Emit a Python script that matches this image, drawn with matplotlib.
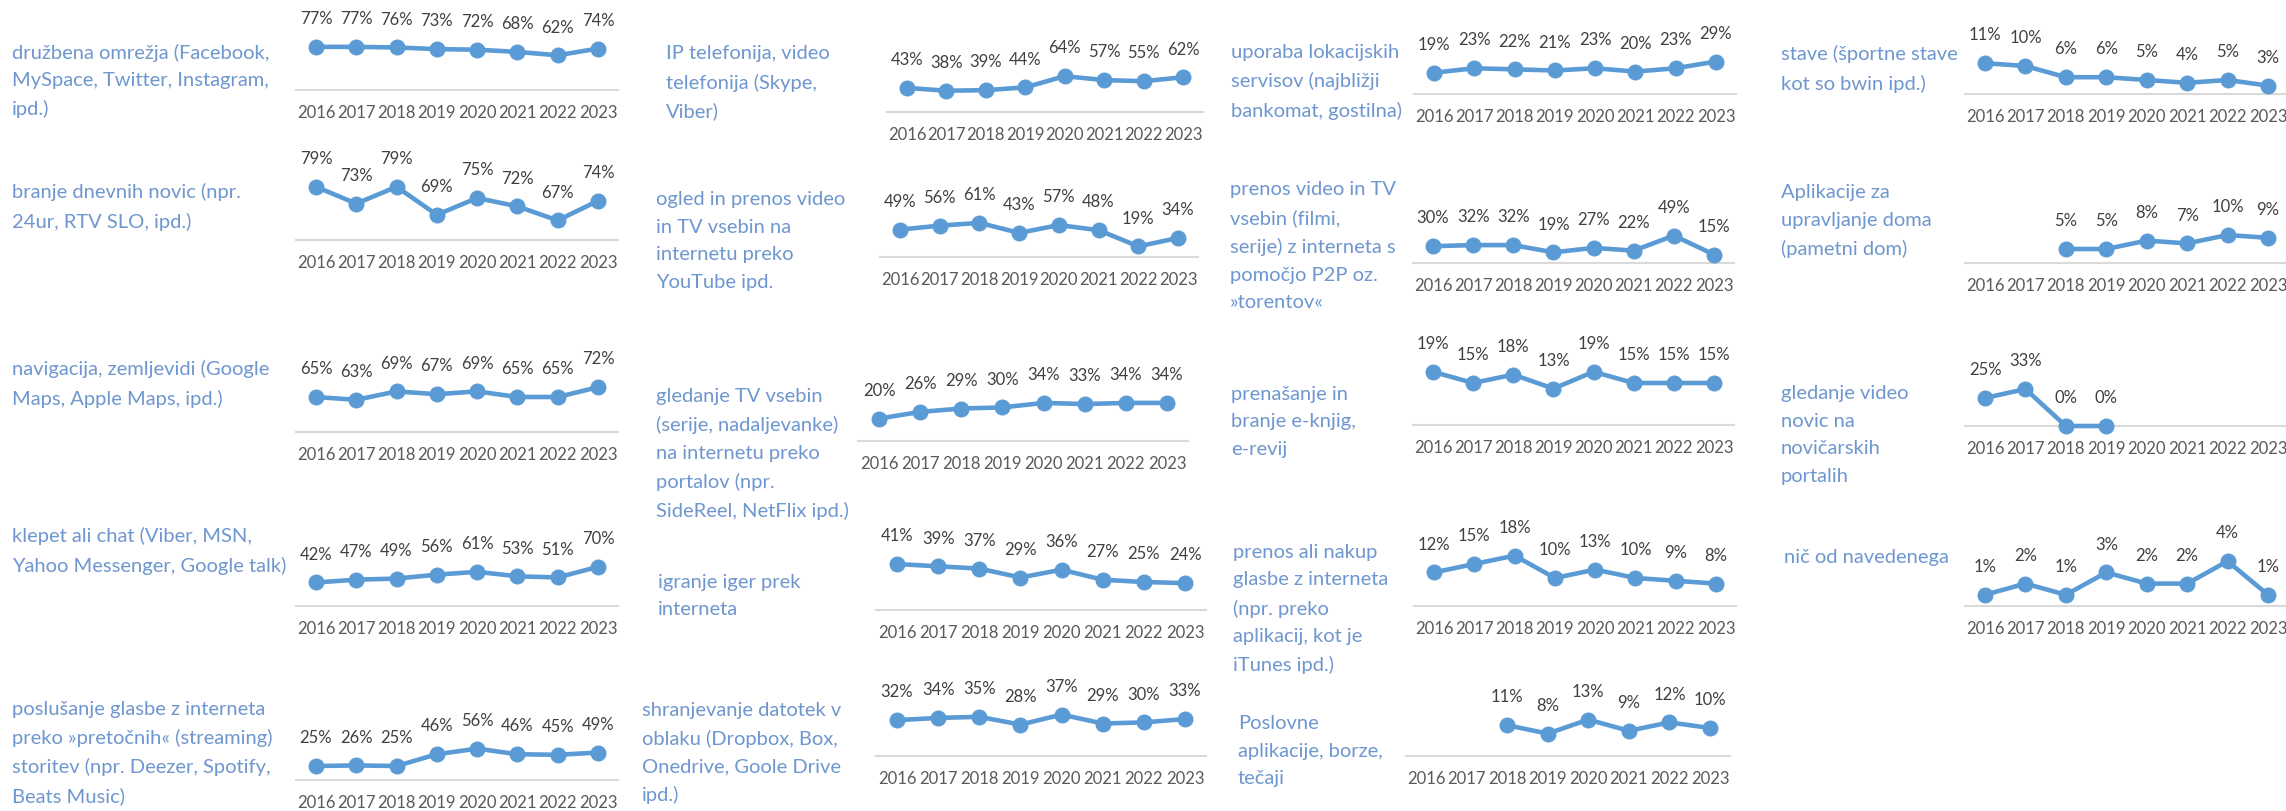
import numpy as np
import matplotlib.pyplot as plt

plt.rcParams['font.family'] = ['Lato', 'DejaVu Sans']

nan = np.nan
years = ["2016", "2017", "2018", "2019", "2020", "2021", "2022", "2023"]

# share of respondents per activity, by year (%)
druzbena_omrezja = [77, 77, 76, 73, 72, 68, 62, 74]
branje_novic = [79, 73, 79, 69, 75, 72, 67, 74]
navigacija = [65, 63, 69, 67, 69, 65, 65, 72]
klepet = [42, 47, 49, 56, 61, 53, 51, 70]
poslusanje_glasbe = [25, 26, 25, 46, 56, 46, 45, 49]
ip_telefonija = [43, 38, 39, 44, 64, 57, 55, 62]
youtube = [49, 56, 61, 43, 57, 48, 19, 34]
tv_portali = [20, 26, 29, 30, 34, 33, 34, 34]
igranje_iger = [41, 39, 37, 29, 36, 27, 25, 24]
oblak = [32, 34, 35, 28, 37, 29, 30, 33]
lokacijski_servisi = [19, 23, 22, 21, 23, 20, 23, 29]
p2p = [30, 32, 32, 19, 27, 22, 49, 15]
e_knjige = [19, 15, 18, 13, 19, 15, 15, 15]
nakup_glasbe = [12, 15, 18, 10, 13, 10, 9, 8]
poslovne_aplikacije = [nan, nan, 11, 8, 13, 9, 12, 10]
stave = [11, 10, 6, 6, 5, 4, 5, 3]
pametni_dom = [nan, nan, 5, 5, 8, 7, 10, 9]
video_novice = [25, 33, 0, 0, nan, nan, nan, nan]
nic = [1, 2, 1, 3, 2, 2, 4, 1]

labels = [
    "družbena omrežja (Facebook,\nMySpace, Twitter, Instagram,\nipd.)",
    "branje dnevnih novic (npr.\n24ur, RTV SLO, ipd.)",
    "navigacija, zemljevidi (Google\nMaps, Apple Maps, ipd.)",
    "klepet ali chat (Viber, MSN,\nYahoo Messenger, Google talk)",
    "poslušanje glasbe z interneta\npreko »pretočnih« (streaming)\nstoritev (npr. Deezer, Spotify,\nBeats Music)",
    "IP telefonija, video\ntelefonija (Skype,\nViber)",
    "ogled in prenos video\nin TV vsebin na\ninternetu preko\nYouTube ipd.",
    "gledanje TV vsebin\n(serije, nadaljevanke)\nna internetu preko\nportalov (npr.\nSideReel, NetFlix ipd.)",
    "igranje iger prek\ninterneta",
    "shranjevanje datotek v\noblaku (Dropbox, Box,\nOnedrive, Goole Drive\nipd.)",
    "uporaba lokacijskih\nservisov (najbližji\nbankomat, gostilna)",
    "prenos video in TV\nvsebin (filmi,\nserije) z interneta s\npomočjo P2P oz.\n»torentov«",
    "prenašanje in\nbranje e-knjig,\ne-revij",
    "prenos ali nakup\nglasbe z interneta\n(npr. preko\naplikacij, kot je\niTunes ipd.)",
    "Poslovne\naplikacije, borze,\ntečaji",
    "stave (športne stave\nkot so bwin ipd.)",
    "Aplikacije za\nupravljanje doma\n(pametni dom)",
    "gledanje video\nnovic na\nnovičarskih\nportalih",
    "nič od navedenega",
]

series = [
    druzbena_omrezja, branje_novic, navigacija, klepet, poslusanje_glasbe,
    ip_telefonija, youtube, tv_portali, igranje_iger, oblak,
    lokacijski_servisi, p2p, e_knjige, nakup_glasbe, poslovne_aplikacije,
    stave, pametni_dom, video_novice, nic,
]

# layout in pixels: label x, label centre y, first/last point x, baseline y, y range
layout = [
    (12, 81, 316, 598, 90, (0, 100)),
    (12, 207, 316, 598, 240, (60, 80)),
    (12, 384, 316, 598, 432, (40, 80)),
    (12, 551, 316, 598, 606, (0, 100)),
    (12, 753, 316, 598, 780, (0, 100)),
    (666, 83, 907, 1183, 112, (0, 100)),
    (656, 241, 900, 1178, 257, (0, 100)),
    (656, 454, 879, 1167, 441, (0, 50)),
    (658, 596, 897, 1185, 610, (0, 50)),
    (642, 753, 897, 1185, 756, (0, 50)),
    (1231, 82, 1434, 1716, 94, (0, 50)),
    (1230, 246, 1433, 1714, 263, (0, 100)),
    (1231, 422, 1433, 1714, 425, (0, 20)),
    (1233, 609, 1434, 1716, 606, (0, 20)),
    (1238, 751, 1426, 1710, 756, (0, 20)),
    (1781, 69, 1985, 2268, 94, (0, 20)),
    (1781, 221, 1985, 2268, 263, (0, 20)),
    (1781, 435, 1985, 2268, 426, (0, 50)),
    (1784, 558, 1985, 2268, 606, (0, 5)),
]

W, H = 2286, 811
PLOT_H = 56
LINE = "#5B9BD5"
LABEL_BLUE = "#6E96CF"

fig = plt.figure(figsize=(W / 100, H / 100), dpi=100)
fig.patch.set_facecolor("white")

x = np.arange(len(years))
for label, values, (tx, ty, x0, x7, base, ylim) in zip(labels, series, layout):
    fig.text(tx / W, 1 - ty / H, label, ha="left", va="center",
             fontsize=14.5, color=LABEL_BLUE, linespacing=1.74)

    step = (x7 - x0) / 7
    left = x0 - step / 2
    ax = fig.add_axes([left / W, 1 - base / H, 8 * step / W, PLOT_H / H])
    ax.patch.set_alpha(0)
    ax.plot(x, values, color=LINE, lw=3.3, marker="o", ms=10.5,
            clip_on=False, zorder=3)
    for i, v in enumerate(values):
        if np.isnan(v):
            continue
        ax.annotate(f"{v:.0f}%", (i, v), xytext=(0, 20), textcoords="offset points",
                    ha="center", va="center", fontsize=12, color="#404040",
                    annotation_clip=False)

    ax.set_xlim(-0.5, 7.5)
    ax.set_ylim(*ylim)
    ax.set_yticks([])
    ax.set_xticks(x, years)
    ax.tick_params(axis="x", length=0, pad=10.5, labelsize=12, labelcolor="#595959")
    for side in ("left", "right", "top"):
        ax.spines[side].set_visible(False)
    ax.spines["bottom"].set_color("#D9D9D9")
    ax.spines["bottom"].set_linewidth(1.5)

fig.savefig("out.png", dpi=100)
